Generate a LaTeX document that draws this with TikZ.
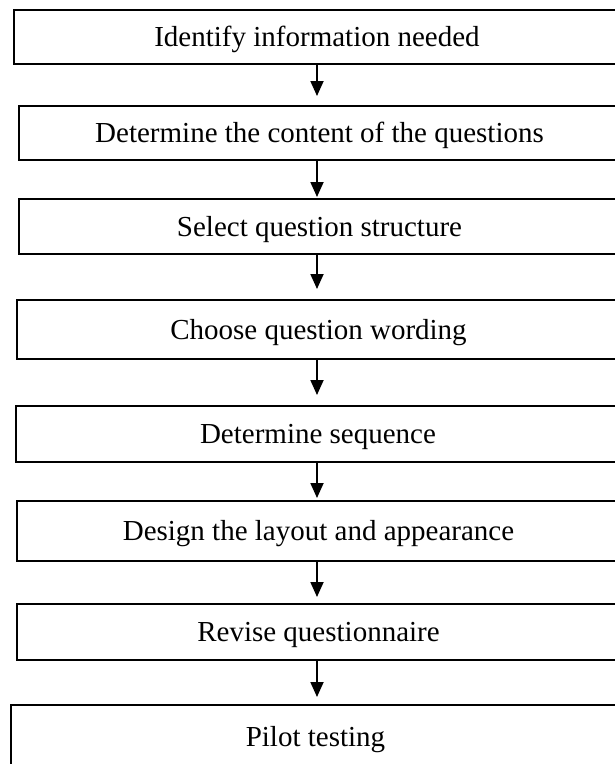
\documentclass[tikz,border=0pt]{standalone}
\usepackage{fontspec}
\setmainfont{Liberation Serif}
\usetikzlibrary{arrows.meta}

\begin{document}
\begin{tikzpicture}[x=1pt, y=-1pt,
  stepbox/.style={draw=black, line width=1.8pt, fill=white, inner sep=0pt,
    font=\fontsize{29}{34}\selectfont, text height=19.2pt, text depth=0pt},
  flow/.style={line width=1.8pt, -{Triangle[width=13pt, length=15pt]}}]
  \useasboundingbox (0,0) rectangle (614,764);

  % process steps, top to bottom
  \node[stepbox, minimum width=606pt, minimum height=54pt] (b1) at (317,37)
    {Identify information needed};
  \node[stepbox, minimum width=601pt, minimum height=54pt] (b2) at (319.5,133)
    {Determine the content of the questions};
  \node[stepbox, minimum width=601pt, minimum height=55pt] (b3) at (319.5,226.5)
    {Select question structure};
  \node[stepbox, minimum width=603pt, minimum height=59pt] (b4) at (318.5,329.5)
    {Choose question wording};
  \node[stepbox, minimum width=604pt, minimum height=56pt] (b5) at (318,434)
    {Determine sequence};
  \node[stepbox, minimum width=603pt, minimum height=60pt] (b6) at (318.5,531)
    {Design the layout and appearance};
  \node[stepbox, minimum width=603pt, minimum height=56pt] (b7) at (318.5,632)
    {Revise questionnaire};
  \node[stepbox, minimum width=609pt, minimum height=64pt] (b8) at (315.5,737)
    {Pilot testing};

  % arrow tips between consecutive steps
  \coordinate (t1) at (317,96);
  \coordinate (t2) at (317,197);
  \coordinate (t3) at (317,289);
  \coordinate (t4) at (317,395);
  \coordinate (t5) at (317,498);
  \coordinate (t6) at (317,597);
  \coordinate (t7) at (317,697);

  \draw[flow] (b1.south -| t1) -- (t1);
  \draw[flow] (b2.south -| t2) -- (t2);
  \draw[flow] (b3.south -| t3) -- (t3);
  \draw[flow] (b4.south -| t4) -- (t4);
  \draw[flow] (b5.south -| t5) -- (t5);
  \draw[flow] (b6.south -| t6) -- (t6);
  \draw[flow] (b7.south -| t7) -- (t7);
\end{tikzpicture}
\end{document}
